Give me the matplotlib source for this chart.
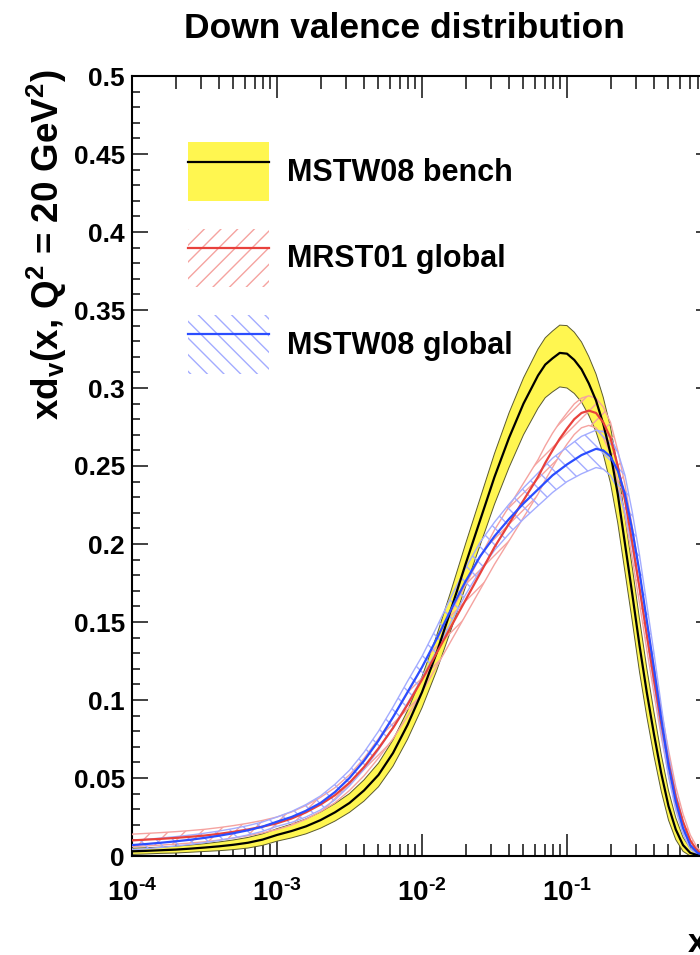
import numpy as np
import matplotlib
matplotlib.use('Agg')
import matplotlib.pyplot as plt
from matplotlib.patches import Patch
from matplotlib.lines import Line2D
from matplotlib.legend_handler import HandlerTuple
from matplotlib.ticker import LogLocator, MultipleLocator, FuncFormatter

plt.rcParams['font.family'] = ['Liberation Sans', 'DejaVu Sans']
plt.rcParams['font.weight'] = 'bold'
plt.rcParams['mathtext.fontset'] = 'custom'
plt.rcParams['mathtext.rm'] = 'Liberation Sans:bold'
plt.rcParams['mathtext.it'] = 'Liberation Sans:bold'
plt.rcParams['mathtext.bf'] = 'Liberation Sans:bold'
plt.rcParams['hatch.linewidth'] = 1.0

# sampling in log10(x): 0.1 decade steps up to 10^-1.2, then 0.05 steps up to 1
logx = [-4.0, -3.9, -3.8, -3.7, -3.6, -3.5, -3.4, -3.3, -3.2, -3.1,
        -3.0, -2.9, -2.8, -2.7, -2.6, -2.5, -2.4, -2.3, -2.2, -2.1,
        -2.0, -1.9, -1.8, -1.7, -1.6, -1.5, -1.4, -1.3, -1.2,
        -1.15, -1.1, -1.05, -1.0, -0.95, -0.9, -0.85, -0.8, -0.75, -0.7, -0.65, -0.6,
        -0.55, -0.5, -0.45, -0.4, -0.35, -0.3, -0.25, -0.2, -0.15, -0.1, -0.05, 0.0]

# MSTW08 bench: central value and band (up / down) half-widths
bench = [0.0030, 0.0033, 0.0037, 0.0041, 0.0047, 0.0054, 0.0062, 0.0072, 0.0085, 0.0105,
         0.0135, 0.0160, 0.0190, 0.0230, 0.0280, 0.0340, 0.0420, 0.0520, 0.0660, 0.0840,
         0.1050, 0.1300, 0.1580, 0.1870, 0.2150, 0.2430, 0.2680, 0.2900, 0.3080,
         0.315, 0.319, 0.3225, 0.322, 0.318, 0.312, 0.303, 0.292, 0.277, 0.258, 0.232, 0.200,
         0.168, 0.135, 0.105, 0.078, 0.053, 0.032, 0.017, 0.007, 0.002, 0.0005, 0.0, 0.0]
bench_up = [0.002, 0.002, 0.002, 0.0022, 0.0023, 0.0025, 0.0028, 0.0031, 0.0034, 0.0037,
            0.004, 0.0044, 0.0048, 0.0052, 0.0056, 0.006, 0.0068, 0.0076, 0.0084, 0.0092,
            0.010, 0.011, 0.012, 0.013, 0.014, 0.015, 0.016, 0.0165, 0.017,
            0.0172, 0.0175, 0.0178, 0.018, 0.0178, 0.0175, 0.0172, 0.017, 0.017, 0.017, 0.017, 0.017,
            0.017, 0.017, 0.0155, 0.014, 0.012, 0.010, 0.0075, 0.005, 0.003, 0.0015, 0.0005, 0.0]
bench_dn = [0.002, 0.002, 0.002, 0.0022, 0.0023, 0.0025, 0.0028, 0.0031, 0.0034, 0.0037,
            0.004, 0.0044, 0.0048, 0.0052, 0.0056, 0.006, 0.0068, 0.0076, 0.0084, 0.0092,
            0.010, 0.0115, 0.013, 0.0145, 0.016, 0.0175, 0.019, 0.020, 0.021,
            0.0212, 0.0215, 0.0218, 0.022, 0.0215, 0.021, 0.0205, 0.020, 0.0195, 0.019, 0.0185, 0.018,
            0.0175, 0.017, 0.0155, 0.014, 0.0115, 0.009, 0.0065, 0.004, 0.002, 0.0005, 0.0, 0.0]

# MRST01 global
mrst = [0.0100, 0.0105, 0.0110, 0.0116, 0.0123, 0.0131, 0.0142, 0.0155, 0.0170, 0.0188,
        0.0210, 0.0240, 0.0280, 0.0330, 0.0390, 0.0470, 0.0570, 0.0690, 0.0820, 0.0970,
        0.1130, 0.1300, 0.1470, 0.1640, 0.1810, 0.1980, 0.2130, 0.2280, 0.2430,
        0.252, 0.260, 0.2675, 0.274, 0.280, 0.284, 0.2855, 0.284, 0.278, 0.268, 0.250, 0.228,
        0.201, 0.172, 0.142, 0.113, 0.085, 0.060, 0.038, 0.022, 0.010, 0.003, 0.0005, 0.0]
mrst_err = [0.004, 0.004, 0.004, 0.004, 0.004, 0.004, 0.004, 0.004, 0.004, 0.004,
            0.004, 0.0042, 0.0044, 0.0046, 0.0048, 0.005, 0.0056, 0.0062, 0.0068, 0.0074,
            0.008, 0.0086, 0.0092, 0.0098, 0.0104, 0.011, 0.011, 0.011, 0.011,
            0.011, 0.011, 0.0105, 0.010, 0.0098, 0.0095, 0.0095, 0.0095, 0.0098, 0.010, 0.010, 0.010,
            0.010, 0.010, 0.0095, 0.009, 0.0085, 0.008, 0.0065, 0.005, 0.0035, 0.002, 0.0008, 0.0]

# MSTW08 global
mstw = [0.0070, 0.0077, 0.0085, 0.0094, 0.0104, 0.0116, 0.0130, 0.0146, 0.0165, 0.0188,
        0.0220, 0.0250, 0.0290, 0.0340, 0.0410, 0.0500, 0.0610, 0.0740, 0.0890, 0.1050,
        0.1210, 0.1390, 0.1580, 0.1760, 0.1920, 0.2050, 0.2160, 0.2260, 0.2350,
        0.2395, 0.244, 0.2475, 0.251, 0.254, 0.257, 0.259, 0.261, 0.260, 0.256, 0.247, 0.232,
        0.209, 0.182, 0.151, 0.120, 0.088, 0.058, 0.035, 0.018, 0.007, 0.002, 0.0003, 0.0]
mstw_err = [0.003, 0.003, 0.003, 0.003, 0.003, 0.003, 0.003, 0.003, 0.003, 0.003,
            0.003, 0.0035, 0.004, 0.0045, 0.005, 0.005, 0.0055, 0.006, 0.0065, 0.007,
            0.007, 0.0075, 0.008, 0.0085, 0.009, 0.009, 0.0095, 0.010, 0.0105,
            0.0108, 0.011, 0.011, 0.011, 0.0115, 0.012, 0.012, 0.012, 0.012, 0.012, 0.012, 0.012,
            0.0115, 0.011, 0.0105, 0.010, 0.0085, 0.007, 0.0055, 0.004, 0.0025, 0.001, 0.0003, 0.0]

labels = ['MSTW08 bench', 'MRST01 global', 'MSTW08 global']

x = 10.0 ** np.array(logx)
bench = np.array(bench)
mrst = np.array(mrst)
mstw = np.array(mstw)
bench_hi = bench + np.array(bench_up)
bench_lo = np.clip(bench - np.array(bench_dn), 0, None)
mrst_hi = mrst + np.array(mrst_err)
mrst_lo = np.clip(mrst - np.array(mrst_err), 0, None)
mstw_hi = mstw + np.array(mstw_err)
mstw_lo = np.clip(mstw - np.array(mstw_err), 0, None)

yellow = '#fff650'
red = '#e8413c'
light_red = '#f5a3a0'
blue = '#2b4dff'
light_blue = '#a3acff'

fig = plt.figure(figsize=(7.0, 9.55), dpi=100)
ax = fig.add_axes([132 / 700, 1 - 856 / 955, (712 - 132) / 700, (856 - 76) / 955])

# bench band
ax.fill_between(x, bench_lo, bench_hi, facecolor=yellow, edgecolor='none', zorder=2)
ax.plot(x, bench_lo, color='#5a5a30', lw=0.7, zorder=2)
ax.plot(x, bench_hi, color='#5a5a30', lw=0.7, zorder=2)

# hatched bands
ax.fill_between(x, mrst_lo, mrst_hi, facecolor='none', edgecolor=light_red, hatch='//', linewidth=0, zorder=3)
ax.plot(x, mrst_lo, color=light_red, lw=1.0, zorder=3)
ax.plot(x, mrst_hi, color=light_red, lw=1.0, zorder=3)
ax.fill_between(x, mstw_lo, mstw_hi, facecolor='none', edgecolor=light_blue, hatch='\\\\', linewidth=0, zorder=3)
ax.plot(x, mstw_lo, color=light_blue, lw=1.0, zorder=3)
ax.plot(x, mstw_hi, color=light_blue, lw=1.0, zorder=3)

ax.plot(x, bench, color='black', lw=1.6, zorder=5)
ax.plot(x, mrst, color=red, lw=1.6, zorder=5)
ax.plot(x, mstw, color=blue, lw=1.6, zorder=5)

ax.set_xscale('log')
ax.set_xlim(1e-4, 1.0)
ax.set_ylim(0, 0.5)


def xfmt(v, p):
    e = int(round(np.log10(v)))
    if e >= 0:
        return ''
    return '$10^{\u2010%d}$' % abs(e)


ax.xaxis.set_major_locator(LogLocator(base=10, numticks=10))
ax.xaxis.set_minor_locator(LogLocator(base=10, subs=np.arange(2, 10), numticks=20))
ax.xaxis.set_major_formatter(FuncFormatter(xfmt))
ax.xaxis.set_minor_formatter(FuncFormatter(lambda v, p: ''))
ax.yaxis.set_major_locator(MultipleLocator(0.05))
ax.yaxis.set_minor_locator(MultipleLocator(0.01))
ax.yaxis.set_major_formatter(FuncFormatter(lambda v, p: ('%g' % round(v, 2))))

ax.tick_params(axis='both', which='both', direction='in', top=True, right=True, width=1.3, color='#333333')
ax.tick_params(axis='x', which='major', length=16, pad=17, labelsize=20)
ax.tick_params(axis='x', which='minor', length=9)
ax.tick_params(axis='y', which='major', length=11.5, pad=5, labelsize=19)
ax.tick_params(axis='y', which='minor', length=6)
for s in ax.spines.values():
    s.set_linewidth(1.5)

handles = [
    (Patch(facecolor=yellow, edgecolor='none'), Line2D([], [], color='black', lw=1.6)),
    (Patch(facecolor='none', edgecolor=light_red, hatch='//', linewidth=0), Line2D([], [], color=red, lw=1.6)),
    (Patch(facecolor='none', edgecolor=light_blue, hatch='\\\\', linewidth=0), Line2D([], [], color=blue, lw=1.6)),
]
ax.legend(handles, labels, handler_map={tuple: HandlerTuple(ndivide=1, pad=0)},
          loc='upper left', bbox_to_anchor=(0.096, 0.915), frameon=False,
          handlelength=2.65, handleheight=2.56, labelspacing=0.92, handletextpad=0.59,
          borderpad=0, borderaxespad=0, prop={'size': 22, 'weight': 'bold'})

fig.text(404 / 700, 1 - 29 / 955, 'Down valence distribution', ha='center', va='center',
         fontsize=25.5, fontweight='bold')
fig.text(47 / 700, 1 - 70 / 955, r'xd$_{v}$(x, Q$^{2}$ = 20 GeV$^{2}$)', rotation=90,
         ha='center', va='top', fontsize=26.5, fontweight='bold')
fig.text(688 / 700, 1 - 943 / 955, 'x', ha='left', va='center', fontsize=24, fontweight='bold')

fig.savefig('out.png', dpi=100)
